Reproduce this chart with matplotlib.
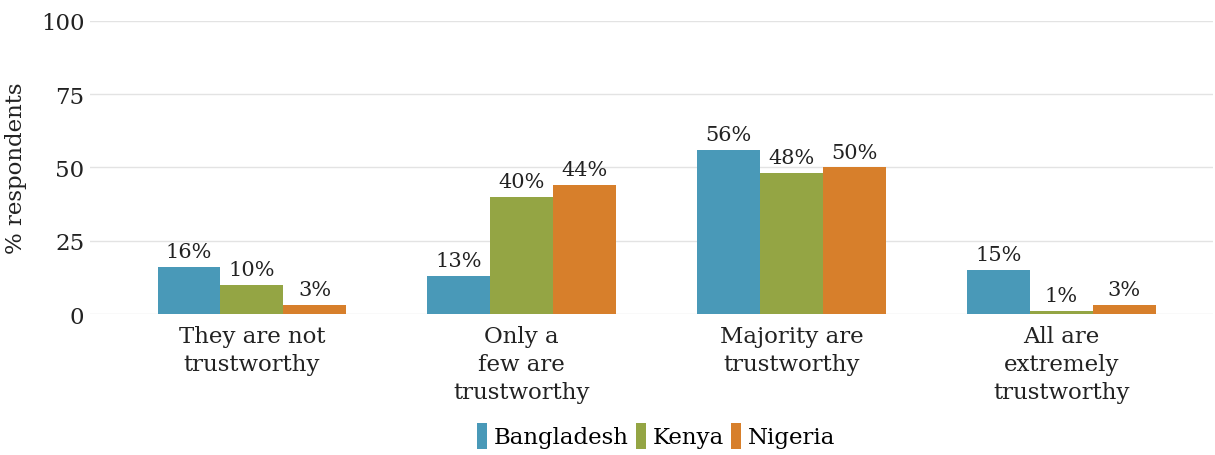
import numpy as np
import matplotlib
matplotlib.use('Agg')
import matplotlib.pyplot as plt

categories = ["They are not\ntrustworthy", "Only a\nfew are\ntrustworthy",
              "Majority are\ntrustworthy", "All are\nextremely\ntrustworthy"]
countries = ["Bangladesh", "Kenya", "Nigeria"]
bangladesh = [16, 13, 56, 15]
kenya = [10, 40, 48, 1]
nigeria = [3, 44, 50, 3]
colors = ["#4999b8", "#94a544", "#d77f2b"]

plt.rcParams['font.family'] = ['DejaVu Serif']

fig = plt.figure(figsize=(12.15, 4.56), dpi=100)
ax = fig.add_axes([0.074, 0.309, 0.924, 0.643])

x = np.arange(len(categories))
w = 0.233
for i, (name, vals) in enumerate(zip(countries, [bangladesh, kenya, nigeria])):
    bars = ax.bar(x + (i - 1) * w, vals, w, color=colors[i], label=name, zorder=3)
    for b, v in zip(bars, vals):
        ax.text(b.get_x() + b.get_width() / 2, v + 2, f"{v}%",
                ha='center', va='bottom', fontsize=15, color='#222222')

ax.set_ylim(0, 100)
ax.set_xlim(-0.6, 3.56)
ax.set_yticks([0, 25, 50, 75, 100])
ax.grid(axis='y', color='#e3e3e3', linewidth=1, zorder=0)
for s in ax.spines.values():
    s.set_visible(False)
ax.tick_params(length=0, labelsize=16.5, colors='#222222')
ax.tick_params(axis='y', pad=4)
ax.tick_params(axis='x', pad=8)
ax.set_xticks(x)
ax.set_xticklabels(categories, fontsize=16.5, linespacing=1.35)
ax.set_ylabel("% respondents", fontsize=16.5, color='#222222', labelpad=10)

fig.legend(loc='center', bbox_to_anchor=(0.54, 0.042), ncol=3, frameon=False,
           fontsize=16.5, handlelength=0.45, handleheight=1.4, handletextpad=0.3,
           columnspacing=0.3)

fig.savefig("out.png", dpi=100)
